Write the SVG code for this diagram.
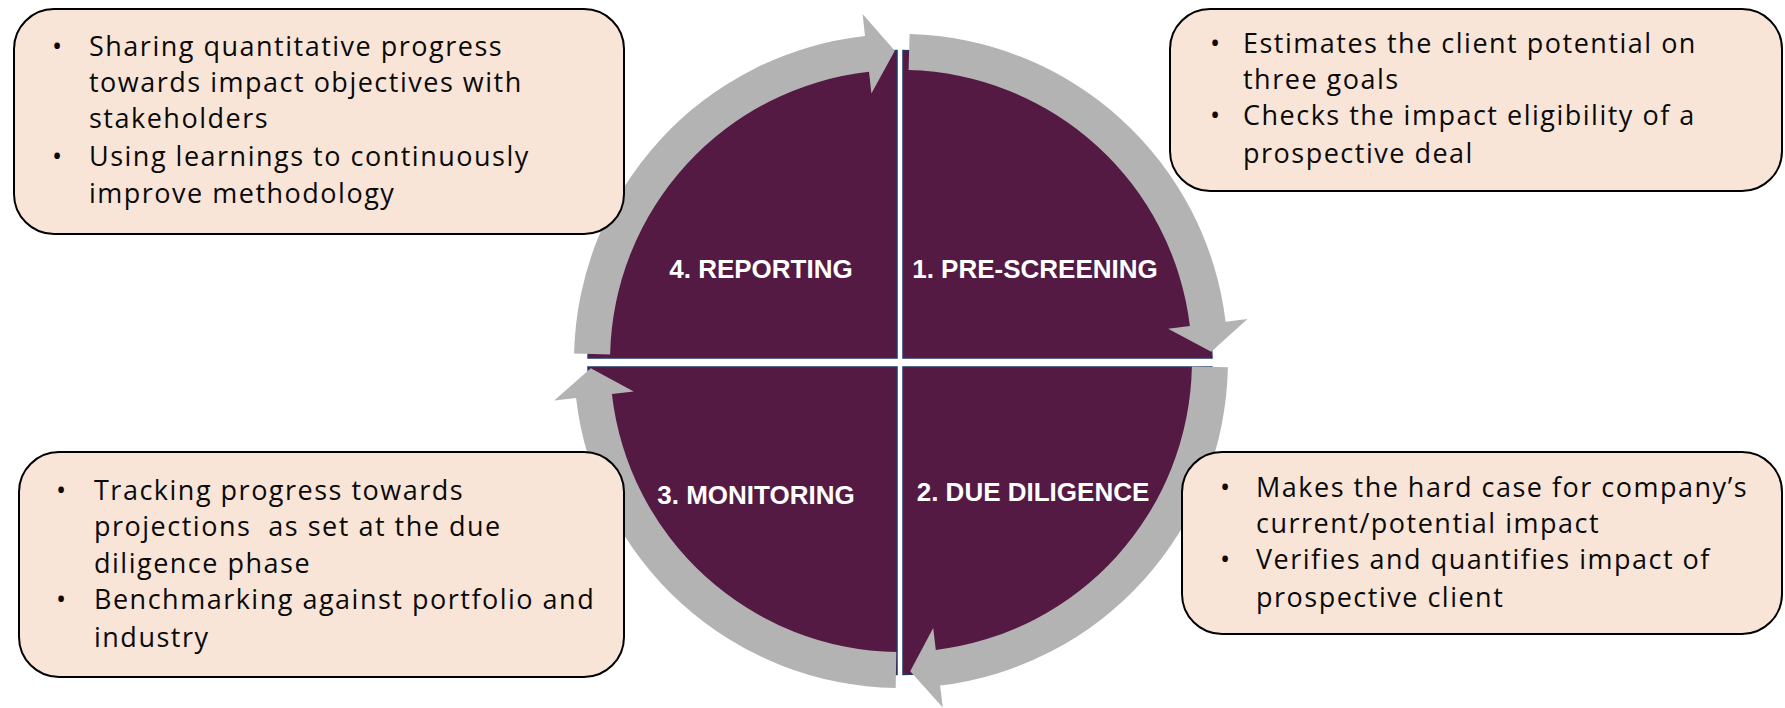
<svg xmlns="http://www.w3.org/2000/svg" width="1785" height="708" viewBox="0 0 1785 708">
  <style>
    .quad { fill: #541A43; stroke: #1F3864; stroke-width: 1.5; }
    .phase { font-family: "Liberation Sans", Arial, sans-serif; font-weight: bold; font-size: 26px; fill: #FFFFFF; text-anchor: middle; }
    .cycle { fill: #B3B3B3; }
    .note { fill: #F9E5D8; stroke: #000000; stroke-width: 2; }
    .txt { font-family: "Open Sans", "Noto Sans", sans-serif; font-size: 27px; letter-spacing: 1.5px; fill: #0A0A0A; }
  </style>

  <!-- four phase quadrants -->
  <g id="phase-prescreening">
    <path class="quad" d="M 903 358 V 50.5 A 312 312 0 0 1 1212 358 Z"/>
    <text class="phase" x="1035" y="278">1. PRE-SCREENING</text>
  </g>
  <g id="phase-duediligence">
    <path class="quad" d="M 903 367 H 1212 A 312 312 0 0 1 903 674.5 Z"/>
    <text class="phase" x="1033" y="501">2. DUE DILIGENCE</text>
  </g>
  <g id="phase-monitoring">
    <path class="quad" d="M 897 367 V 674.5 A 312 312 0 0 1 588 367 Z"/>
    <text class="phase" x="756" y="504">3. MONITORING</text>
  </g>
  <g id="phase-reporting">
    <path class="quad" d="M 897 358 H 588 A 312 312 0 0 1 897 50.5 Z"/>
    <text class="phase" x="761" y="278">4. REPORTING</text>
  </g>

  <!-- circular arrows linking the phases -->
  <g id="connectors">
    <path class="cycle" d="M 909.6 34.1 A 327 327 0 0 1 1225.6 321.7 L 1247.5 319.1 L 1211.2 351.7 L 1168.1 328.7 L 1189.9 326.0 A 291 291 0 0 0 908.6 70.1 Z"/>
    <path class="cycle" d="M 1227.9 367.3 A 327 327 0 0 1 940.1 685.6 L 942.8 707.5 L 910.2 671.2 L 933.2 628.1 L 935.8 649.9 A 291 291 0 0 0 1191.9 366.6 Z"/>
    <path class="cycle" d="M 895.7 688 A 327 327 0 0 1 576.1 398.0 L 554.2 400.5 L 590.8 368.2 L 633.7 391.5 L 611.9 394.0 A 291 291 0 0 0 896.3 652 Z"/>
    <path class="cycle" d="M 574.1 353.6 A 327 327 0 0 1 865.0 36.0 L 862.6 14.1 L 894.8 50.8 L 871.4 93.6 L 869.0 71.8 A 291 291 0 0 0 610.1 354.4 Z"/>
  </g>

  <!-- description boxes -->
  <g id="note-reporting">
    <rect class="note" x="14" y="9" width="610" height="225" rx="40" ry="40"/>
    <text class="txt">
      <tspan x="52" y="56">•</tspan><tspan x="89" y="56">Sharing quantitative progress</tspan>
      <tspan x="89" y="92">towards impact objectives with</tspan>
      <tspan x="89" y="128">stakeholders</tspan>
      <tspan x="52" y="166">•</tspan><tspan x="89" y="166">Using learnings to continuously</tspan>
      <tspan x="89" y="203">improve methodology</tspan>
    </text>
  </g>
  <g id="note-prescreening">
    <rect class="note" x="1170" y="9" width="612" height="182" rx="40" ry="40"/>
    <text class="txt">
      <tspan x="1210" y="53">•</tspan><tspan x="1243" y="53">Estimates the client potential on</tspan>
      <tspan x="1243" y="89">three goals</tspan>
      <tspan x="1210" y="125">•</tspan><tspan x="1243" y="125">Checks the impact eligibility of a</tspan>
      <tspan x="1243" y="163">prospective deal</tspan>
    </text>
  </g>
  <g id="note-monitoring">
    <rect class="note" x="19" y="452" width="605" height="225" rx="40" ry="40"/>
    <text class="txt">
      <tspan x="56" y="500">•</tspan><tspan x="94" y="500">Tracking progress towards</tspan>
      <tspan x="94" y="536">projections&#160; as set at the due</tspan>
      <tspan x="94" y="573">diligence phase</tspan>
      <tspan x="56" y="609">•</tspan><tspan x="94" y="609">Benchmarking against portfolio and</tspan>
      <tspan x="94" y="647">industry</tspan>
    </text>
  </g>
  <g id="note-duediligence">
    <rect class="note" x="1182" y="452" width="600" height="182" rx="40" ry="40"/>
    <text class="txt">
      <tspan x="1220" y="497">•</tspan><tspan x="1256" y="497">Makes the hard case for company’s</tspan>
      <tspan x="1256" y="533">current/potential impact</tspan>
      <tspan x="1220" y="569">•</tspan><tspan x="1256" y="569">Verifies and quantifies impact of</tspan>
      <tspan x="1256" y="607">prospective client</tspan>
    </text>
  </g>
</svg>
